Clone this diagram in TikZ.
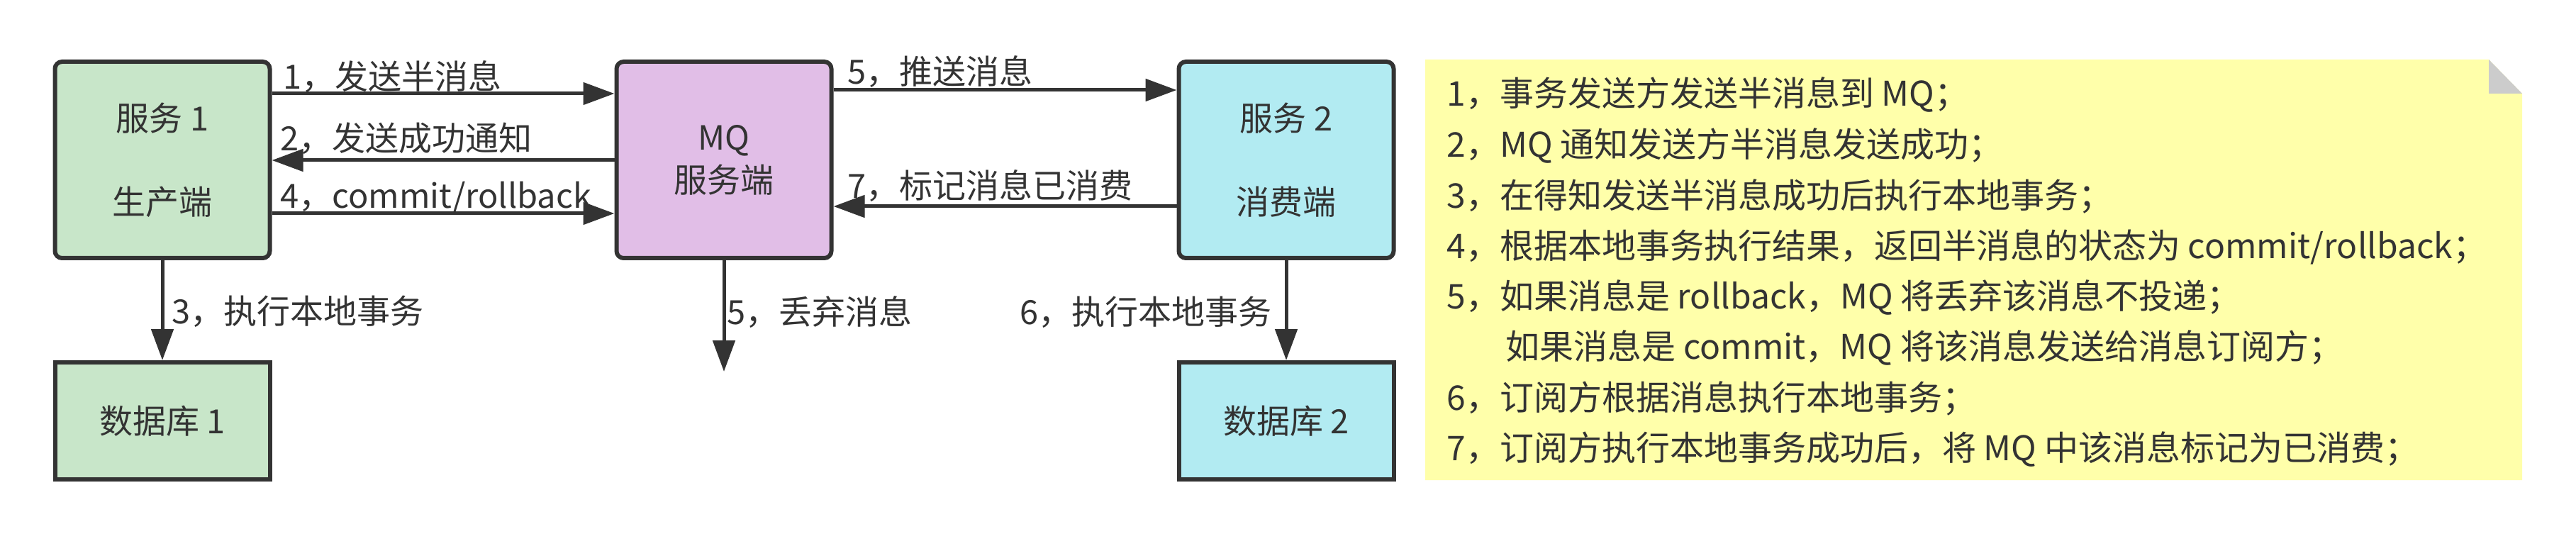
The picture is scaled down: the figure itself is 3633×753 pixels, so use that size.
\documentclass[tikz,border=0pt]{standalone}
\usepackage{fontspec}
\setmainfont{Noto Sans CJK SC}
\usetikzlibrary{calc,arrows.meta}
\definecolor{inkgray}{HTML}{333333}
\definecolor{prodgreen}{HTML}{C8E6C9}
\definecolor{mqpurple}{HTML}{E1BEE7}
\definecolor{conscyan}{HTML}{B2EBF2}
\definecolor{noteyellow}{HTML}{FFFFAA}
\definecolor{foldgray}{HTML}{CCCCCC}
\tikzset{%
  box/.style={draw=inkgray,line width=3pt,rounded corners=5pt,
    minimum width=151.5pt,minimum height=138.5pt,align=center,
    text=inkgray,font=\fontsize{23.5}{59}\selectfont},
  dbbox/.style={box,sharp corners,minimum height=82.5pt},
  flow/.style={draw=inkgray,line width=2.5pt,
    -{Triangle[length=22pt,width=15.5pt]}},
  lbl/.style={inner sep=0pt,text=inkgray,font=\fontsize{23.5}{28}\selectfont},
  notetxt/.style={lbl,anchor=west,font=\fontsize{24}{28}\selectfont},
}

\begin{document}
\begin{tikzpicture}[x=0.5pt,y=-0.5pt]
  \useasboundingbox (0,0) rectangle (3633,753);
  % boxes
  \node[box,fill=prodgreen] (svc1) at (229,225.5) {服务 1\\生产端};
  \node[box,fill=mqpurple,font=\fontsize{23.5}{30}\selectfont] (mq) at (1021,225.5) {MQ\\服务端};
  \node[box,fill=conscyan] (svc2) at (1814,225.5) {服务 2\\消费端};
  \node[dbbox,fill=prodgreen] (db1) at (229,593.5) {数据库 1};
  \node[dbbox,fill=conscyan] (db2) at (1814,593.5) {数据库 2};
  \coordinate (dropend) at (1021,524);
  % producer <-> MQ
  \draw[flow] ($(svc1.east)+(0,-93.5)$) -- ($(mq.west)+(0,-93.5)$);
  \draw[flow] ($(mq.west)+(0,0.5)$) -- ($(svc1.east)+(0,0.5)$);
  \draw[flow] ($(svc1.east)+(0,75.5)$) -- ($(mq.west)+(0,75.5)$);
  \draw[flow] (svc1.south) -- (db1.north);
  % MQ <-> consumer
  \draw[flow] ($(mq.east)+(0,-98.5)$) -- ($(svc2.west)+(0,-98.5)$);
  \draw[flow] ($(svc2.west)+(0,65.5)$) -- ($(mq.east)+(0,65.5)$);
  \draw[flow] (mq.south) -- (dropend);
  \draw[flow] (svc2.south) -- (db2.north);
  % labels
  \node[lbl,anchor=west] (l1) at (399,108) {1，发送半消息};
  \node[lbl,anchor=west] (l2) at (395,195) {2，发送成功通知};
  \node[lbl,anchor=west] (l4) at (395,279) {4，commit/rollback};
  \node[lbl,anchor=west] (l3) at (242,439) {3，执行本地事务};
  \node[lbl,anchor=west] (l5) at (1195,101) {5，推送消息};
  \node[lbl,anchor=west] (l7) at (1195,262) {7，标记消息已消费};
  \node[lbl,anchor=west] (l5b) at (1025,440) {5，丢弃消息};
  \node[lbl,anchor=east] (l6) at (1794,440) {6，执行本地事务};
  % note
  \fill[noteyellow] (2010,84) -- (3510,84) -- (3557,132) -- (3557,677) -- (2010,677) -- cycle;
  \fill[foldgray] (3510,84) -- (3510,132) -- (3557,132) -- cycle;
  \foreach \t [count=\i] in {%
    {1，事务发送方发送半消息到 MQ；},
    {2，MQ 通知发送方半消息发送成功；},
    {3，在得知发送半消息成功后执行本地事务；},
    {4，根据本地事务执行结果，返回半消息的状态为 commit/rollback；},
    {5，如果消息是 rollback，MQ 将丢弃该消息不投递；},
    {\hspace*{41.5pt}如果消息是 commit，MQ 将该消息发送给消息订阅方；},
    {6，订阅方根据消息执行本地事务；},
    {7，订阅方执行本地事务成功后，将 MQ 中该消息标记为已消费；}}
    \node[notetxt] (line\i) at (2040,{134+71.4*(\i-1)}) {\t};
\end{tikzpicture}
\end{document}
